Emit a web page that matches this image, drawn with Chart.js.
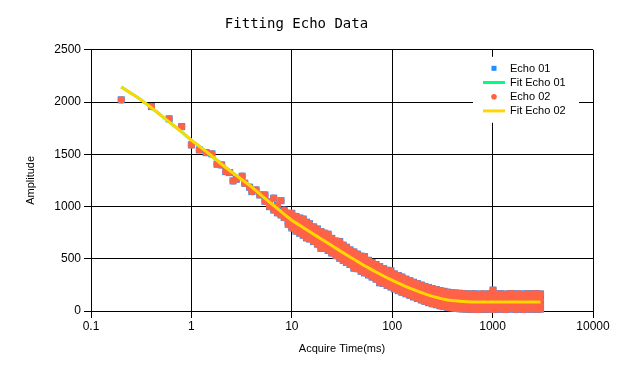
<!DOCTYPE html>
<html>
<head>
<meta charset="utf-8">
<title>Fitting Echo Data</title>
<script src="https://cdn.jsdelivr.net/npm/chart.js@4.4.1/dist/chart.umd.min.js"></script>
<style>
  body { margin: 0; background: #fff; }
</style>
</head>
<body>
<canvas id="echoChart" width="637" height="369"></canvas>
<script>
// acquire times (ms); each one has a small group of amplitudes
const acqTime = [0.2, 0.4, 0.6, 0.8, 1, 1.2, 1.4, 1.6, 1.8, 2, 2.2, 2.4, 2.6, 2.8, 3.2, 3.4, 3.8, 4, 4.4, 4.8,
  5.4, 6, 6.6, 7.2, 7.8, 8.4, 9.2, 10, 11, 12, 13, 14, 15, 16.5, 18, 19.5, 21, 23, 25, 27.5, 30, 32.5, 35, 38,
  41.5, 45, 49, 53, 58, 63, 69, 75, 82, 89, 97, 105, 115, 125, 137, 150, 163, 178, 195, 212, 230, 250, 275,
  300, 327, 357, 390, 425, 465, 505, 550, 600, 655, 715, 780, 850, 930, 1010, 1100, 1200, 1310, 1430, 1560,
  1700, 1850, 2020, 2200, 2400, 2620, 2800, 3000];

const echo01 = [[2021], [1957], [1839], [1765], [1590], [1542], [1516], [1504], [1405], [1398], [1334], [1325],
  [1245], [1261], [1290], [1223], [1185], [1143], [1159], [1111], [1111, 1050], [1045, 999], [1080, 967],
  [1010, 940], [1056, 920], [965, 895], [935, 870, 830],
  [935, 880, 824, 795], [905, 860, 800, 765], [890, 835, 785, 744], [880, 815, 765, 725], [850, 800, 745, 700],
  [835, 775, 725, 690], [805, 755, 700, 665], [785, 730, 680, 640], [760, 705, 655, 600], [745, 690, 640, 600],
  [735, 665, 615, 580], [695, 645, 595, 555], [670, 620, 570, 530], [665, 595, 545, 505], [630, 575, 525, 485],
  [610, 555, 505, 465], [585, 535, 485, 445], [565, 515, 460, 410], [545, 490, 440, 405], [525, 470, 420, 380],
  [520, 450, 400, 365], [485, 430, 380, 345], [465, 410, 360, 325], [445, 390, 340, 305], [425, 370, 320, 270],
  [405, 350, 300, 265], [390, 335, 285, 245], [385, 315, 265, 230], [355, 300, 250, 212], [340, 285, 232, 195],
  [325, 268, 218, 180], [305, 252, 200, 165], [290, 235, 185, 150], [275, 222, 172, 135], [262, 208, 158, 120],
  [248, 195, 145, 106], [235, 180, 130, 92], [225, 170, 118, 80], [215, 158, 105, 70], [205, 148, 95, 60],
  [195, 140, 88, 50], [188, 130, 80, 42], [180, 125, 72, 35], [175, 118, 68, 30], [172, 115, 64, 26],
  [170, 112, 60, 22], [166, 110, 58, 20], [164, 106, 56, 18], [162, 104, 55, 16], [165, 108, 58, 18],
  [160, 102, 54, 15], [163, 106, 57, 17], [161, 105, 55, 16], [164, 107, 58, 19], [200, 150, 105, 55, 15],
  [162, 104, 56, 17], [165, 108, 59, 20], [160, 103, 54, 15], [163, 106, 57, 18], [166, 109, 60, 21],
  [161, 104, 55, 16], [164, 107, 58, 19], [160, 103, 54, 15], [165, 108, 59, 20], [162, 105, 56, 17],
  [166, 109, 60, 21], [161, 104, 55, 16], [163, 106, 57, 18]];

const echo02 = [[2021], [1957], [1839], [1765], [1590], [1542], [1516], [1504], [1405], [1398], [1334], [1325],
  [1245], [1261], [1290], [1223], [1185], [1143], [1159], [1111], [1111, 1050], [1045, 999], [1080, 967],
  [1010, 940], [1056, 920], [965, 895], [935, 870, 830],
  [935, 880, 824, 795], [905, 860, 800, 765], [890, 835, 785, 744], [880, 815, 765, 725], [850, 800, 745, 700],
  [835, 775, 725, 690], [805, 755, 700, 665], [785, 730, 680, 640], [760, 705, 655, 600], [745, 690, 640, 600],
  [735, 665, 615, 580], [695, 645, 595, 555], [670, 620, 570, 530], [665, 595, 545, 505], [630, 575, 525, 485],
  [610, 555, 505, 465], [585, 535, 485, 445], [565, 515, 460, 410], [545, 490, 440, 405], [525, 470, 420, 380],
  [520, 450, 400, 365], [485, 430, 380, 345], [465, 410, 360, 325], [445, 390, 340, 305], [425, 370, 320, 270],
  [405, 350, 300, 265], [390, 335, 285, 245], [385, 315, 265, 230], [355, 300, 250, 212], [340, 285, 232, 195],
  [325, 268, 218, 180], [305, 252, 200, 165], [290, 235, 185, 150], [275, 222, 172, 135], [262, 208, 158, 120],
  [248, 195, 145, 106], [235, 180, 130, 92], [225, 170, 118, 80], [215, 158, 105, 70], [205, 148, 95, 60],
  [195, 140, 88, 50], [188, 130, 80, 42], [180, 125, 72, 35], [175, 118, 68, 30], [172, 115, 64, 26],
  [170, 112, 60, 22], [166, 110, 58, 20], [164, 106, 56, 18], [162, 104, 55, 16], [165, 108, 58, 18],
  [160, 102, 54, 15], [163, 106, 57, 17], [161, 105, 55, 16], [164, 107, 58, 19], [200, 150, 105, 55, 15],
  [162, 104, 56, 17], [165, 108, 59, 20], [160, 103, 54, 15], [163, 106, 57, 18], [166, 109, 60, 21],
  [161, 104, 55, 16], [164, 107, 58, 19], [160, 103, 54, 15], [165, 108, 59, 20], [162, 105, 56, 17],
  [166, 109, 60, 21], [161, 104, 55, 16], [163, 106, 57, 18]];

// fitted curves (both fits sit on top of each other)
const fitTime = [0.2, 0.3, 0.4, 0.6, 0.8, 1, 1.5, 2, 3, 4, 5, 7, 10, 12, 15, 18, 21, 25, 30, 35, 41.5, 49, 58,
  69, 82, 97, 115, 137, 163, 195, 230, 275, 327, 390, 465, 550, 655, 780, 1000, 1500, 2000, 3000];
const fitEcho01 = [2143, 2035, 1945, 1810, 1715, 1635, 1505, 1405, 1275, 1185, 1105, 990, 868, 820, 760, 712,
  672, 626, 578, 538, 495, 453, 413, 373, 335, 300, 266, 234, 204, 176, 152, 130, 113, 101, 94, 89, 87, 86,
  85, 85, 85, 85];
const fitEcho02 = [2143, 2035, 1945, 1810, 1715, 1635, 1505, 1405, 1275, 1185, 1105, 990, 868, 820, 760, 712,
  672, 626, 578, 538, 495, 453, 413, 373, 335, 300, 266, 234, 204, 176, 152, 130, 113, 101, 94, 89, 87, 86,
  85, 85, 85, 85];

const xTicks = [0.1, 1, 10, 100, 1000, 10000];
const yTicks = [0, 500, 1000, 1500, 2000, 2500];

const toPoints = (times, groups) => times.flatMap((t, i) => groups[i].map(v => ({ x: t, y: v })));
const toLine = (times, vals) => times.map((t, i) => ({ x: t, y: vals[i] }));

Chart.defaults.font.family = "'Liberation Sans', Arial, sans-serif";
Chart.defaults.color = '#000';

// legend drawn inside the plot, white box over the grid
const boxLegend = {
  id: 'boxLegend',
  afterDatasetsDraw(chart) {
    const { ctx, chartArea } = chart;
    const left = chartArea.right - 120;
    const top = chartArea.top + 7;
    ctx.save();
    ctx.fillStyle = '#fff';
    ctx.fillRect(left, top, 106, 66);
    ctx.font = "11px 'Liberation Sans', Arial, sans-serif";
    ctx.textBaseline = 'middle';
    chart.data.datasets.forEach((ds, i) => {
      const y = top + 11.5 + i * 14.2;
      const mx = left + 21;
      if (ds.showLine) {
        ctx.strokeStyle = ds.borderColor;
        ctx.lineWidth = 3;
        ctx.beginPath();
        ctx.moveTo(mx - 11, y);
        ctx.lineTo(mx + 11, y);
        ctx.stroke();
      } else if (ds.pointStyle === 'rect') {
        ctx.fillStyle = ds.backgroundColor;
        ctx.fillRect(mx - 2.5, y - 2.5, 5, 5);
      } else {
        ctx.fillStyle = ds.backgroundColor;
        ctx.beginPath();
        ctx.arc(mx, y, 2.8, 0, Math.PI * 2);
        ctx.fill();
      }
      ctx.fillStyle = '#000';
      ctx.fillText(ds.label, left + 37, y + 0.5);
    });
    ctx.restore();
  }
};

const axisGrid = { color: '#000', tickColor: '#000', tickLength: 7, lineWidth: 1 };

new Chart(document.getElementById('echoChart'), {
  type: 'scatter',
  data: {
    datasets: [
      {
        label: 'Echo 01',
        data: toPoints(acqTime, echo01),
        pointStyle: 'rect',
        pointRadius: 5,
        backgroundColor: '#1E90FF',
        borderWidth: 0,
        clip: false,
        order: 4
      },
      {
        label: 'Fit Echo 01',
        data: toLine(fitTime, fitEcho01),
        showLine: true,
        pointRadius: 0,
        borderColor: '#00FF7F',
        borderWidth: 3,
        cubicInterpolationMode: 'monotone',
        order: 3
      },
      {
        label: 'Echo 02',
        data: toPoints(acqTime, echo02),
        pointStyle: 'circle',
        pointRadius: 3.6,
        backgroundColor: '#FF6347',
        borderWidth: 0,
        clip: false,
        order: 2
      },
      {
        label: 'Fit Echo 02',
        data: toLine(fitTime, fitEcho02),
        showLine: true,
        pointRadius: 0,
        borderColor: '#FFD700',
        borderWidth: 3,
        cubicInterpolationMode: 'monotone',
        order: 1
      }
    ]
  },
  options: {
    responsive: false,
    animation: false,
    events: [],
    layout: { padding: { left: 0, right: 44, top: 0, bottom: 0 } },
    plugins: {
      legend: { display: false },
      tooltip: { enabled: false },
      title: {
        display: true,
        text: 'Fitting Echo Data',
        color: '#000',
        font: { family: "'DejaVu Sans Mono', monospace", size: 14, weight: 'normal' },
        padding: { top: 16, bottom: 17 }
      }
    },
    scales: {
      x: {
        type: 'logarithmic',
        min: 0.1,
        max: 10000,
        afterBuildTicks: s => { s.ticks = xTicks.map(v => ({ value: v })); },
        afterFit: s => { s.height = 58; },
        ticks: { callback: v => String(v), font: { size: 12 }, padding: 1, maxRotation: 0, autoSkip: false },
        grid: axisGrid,
        border: { color: '#000' },
        title: { display: true, text: 'Acquire Time(ms)', font: { size: 11 }, padding: { top: 0, bottom: 13 } }
      },
      y: {
        min: 0,
        max: 2500,
        afterBuildTicks: s => { s.ticks = yTicks.map(v => ({ value: v })); },
        afterFit: s => { s.width = 91; },
        ticks: { callback: v => String(v), font: { size: 12 }, padding: 3 },
        grid: axisGrid,
        border: { color: '#000' },
        title: { display: true, text: 'Amplitude', font: { size: 11 }, padding: { top: 24, bottom: 0 } }
      }
    }
  },
  plugins: [boxLegend]
});
</script>
</body>
</html>
